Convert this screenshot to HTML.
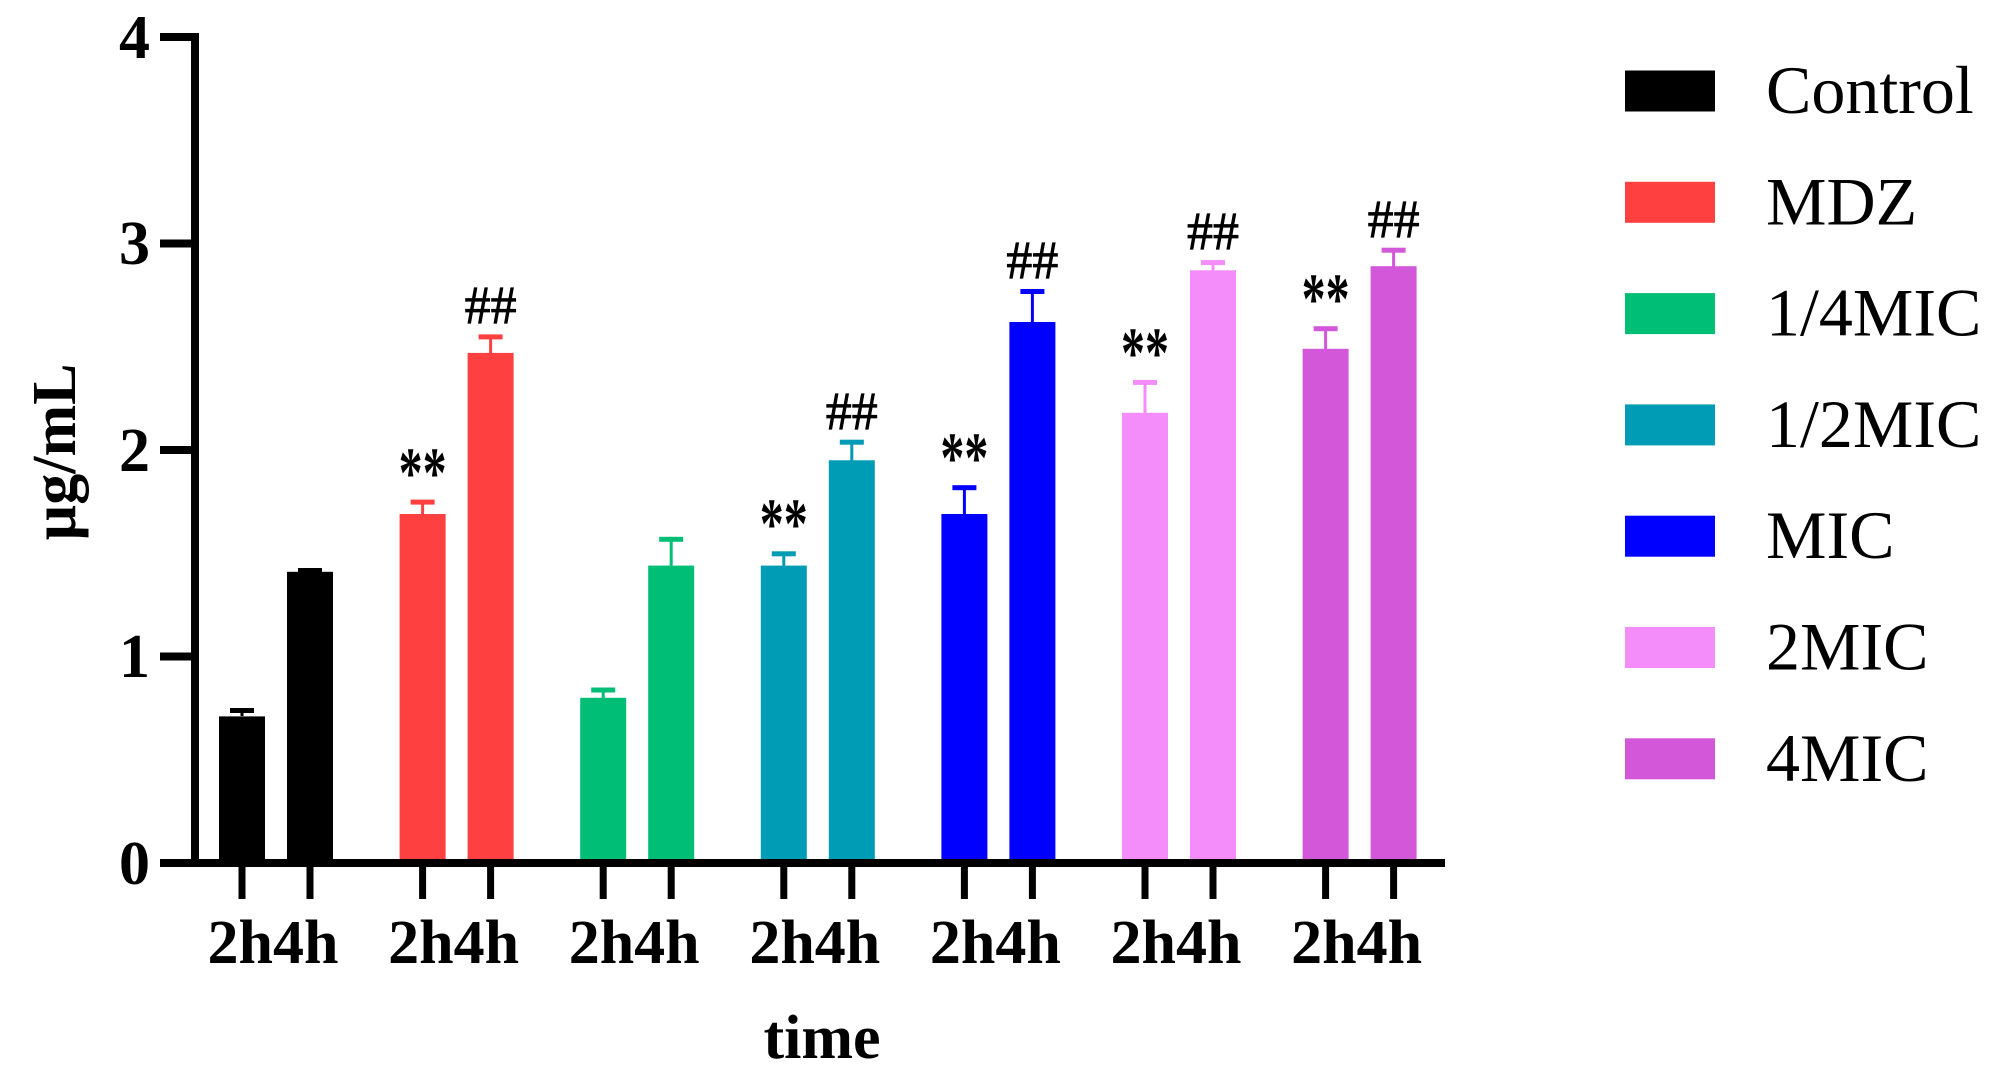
<!DOCTYPE html>
<html><head><meta charset="utf-8"><style>html,body{margin:0;padding:0;background:#fff}svg{display:block}</style></head>
<body>
<svg width="2012" height="1090" viewBox="0 0 2012 1090" xmlns="http://www.w3.org/2000/svg" font-family="'Liberation Serif', serif">
<rect width="2012" height="1090" fill="#fff"/>
<g>
<line x1="242" y1="716" x2="242" y2="710" stroke="#000" stroke-width="3"/><rect x="230" y="708" width="24" height="5" fill="#000"/>
<rect x="219" y="716.4" width="46" height="146.6" fill="#000"/>
<line x1="310" y1="572" x2="310" y2="570" stroke="#000" stroke-width="3"/><rect x="298" y="568" width="24" height="5" fill="#000"/>
<rect x="287" y="571.8" width="46" height="291.2" fill="#000"/>
<line x1="422.6" y1="514" x2="422.6" y2="501.6" stroke="#FF4040" stroke-width="3"/><rect x="410.6" y="499.6" width="24" height="5" fill="#FF4040"/>
<rect x="399.6" y="514" width="46" height="349" fill="#FF4040"/>
<line x1="490.6" y1="353" x2="490.6" y2="336.4" stroke="#FF4040" stroke-width="3"/><rect x="478.6" y="334.4" width="24" height="5" fill="#FF4040"/>
<rect x="467.6" y="352.9" width="46" height="510.1" fill="#FF4040"/>
<line x1="603.2" y1="698" x2="603.2" y2="689.5" stroke="#00BE76" stroke-width="3"/><rect x="591.2" y="687.5" width="24" height="5" fill="#00BE76"/>
<rect x="580.2" y="697.8" width="46" height="165.2" fill="#00BE76"/>
<line x1="671.2" y1="566" x2="671.2" y2="538.8" stroke="#00BE76" stroke-width="3"/><rect x="659.2" y="536.8" width="24" height="5" fill="#00BE76"/>
<rect x="648.2" y="565.6" width="46" height="297.4" fill="#00BE76"/>
<line x1="783.8" y1="566" x2="783.8" y2="553.3" stroke="#009BB4" stroke-width="3"/><rect x="771.8" y="551.3" width="24" height="5" fill="#009BB4"/>
<rect x="760.8" y="565.6" width="46" height="297.4" fill="#009BB4"/>
<line x1="851.8" y1="461" x2="851.8" y2="441.7" stroke="#009BB4" stroke-width="3"/><rect x="839.8" y="439.7" width="24" height="5" fill="#009BB4"/>
<rect x="828.8" y="460.3" width="46" height="402.7" fill="#009BB4"/>
<line x1="964.4" y1="514" x2="964.4" y2="487.2" stroke="#0000FF" stroke-width="3"/><rect x="952.4" y="485.2" width="24" height="5" fill="#0000FF"/>
<rect x="941.4" y="514" width="46" height="349" fill="#0000FF"/>
<line x1="1032.4" y1="322" x2="1032.4" y2="291" stroke="#0000FF" stroke-width="3"/><rect x="1020.4" y="289" width="24" height="5" fill="#0000FF"/>
<rect x="1009.4" y="322" width="46" height="541" fill="#0000FF"/>
<line x1="1145" y1="413" x2="1145" y2="381.9" stroke="#F48CF9" stroke-width="3"/><rect x="1133" y="379.9" width="24" height="5" fill="#F48CF9"/>
<rect x="1122" y="412.8" width="46" height="450.2" fill="#F48CF9"/>
<line x1="1213" y1="271" x2="1213" y2="262.1" stroke="#F48CF9" stroke-width="3"/><rect x="1201" y="260.1" width="24" height="5" fill="#F48CF9"/>
<rect x="1190" y="270.3" width="46" height="592.7" fill="#F48CF9"/>
<line x1="1325.6" y1="349" x2="1325.6" y2="328.2" stroke="#D257D9" stroke-width="3"/><rect x="1313.6" y="326.2" width="24" height="5" fill="#D257D9"/>
<rect x="1302.6" y="348.8" width="46" height="514.2" fill="#D257D9"/>
<line x1="1393.6" y1="267" x2="1393.6" y2="249.7" stroke="#D257D9" stroke-width="3"/><rect x="1381.6" y="247.7" width="24" height="5" fill="#D257D9"/>
<rect x="1370.6" y="266.2" width="46" height="596.8" fill="#D257D9"/>
</g>
<g font-weight="bold" font-size="72" text-anchor="middle">
<text x="422.6" y="497" textLength="48" lengthAdjust="spacingAndGlyphs">**</text>
<text x="783.8" y="548" textLength="48" lengthAdjust="spacingAndGlyphs">**</text>
<text x="964.4" y="482" textLength="48" lengthAdjust="spacingAndGlyphs">**</text>
<text x="1145" y="377" textLength="48" lengthAdjust="spacingAndGlyphs">**</text>
<text x="1325.6" y="323" textLength="48" lengthAdjust="spacingAndGlyphs">**</text>
</g>
<g font-size="54" text-anchor="middle" stroke="#000" stroke-width="0.8">
<text x="490.6" y="323" textLength="52" lengthAdjust="spacingAndGlyphs">##</text>
<text x="851.8" y="429" textLength="52" lengthAdjust="spacingAndGlyphs">##</text>
<text x="1032.4" y="278" textLength="52" lengthAdjust="spacingAndGlyphs">##</text>
<text x="1213" y="249" textLength="52" lengthAdjust="spacingAndGlyphs">##</text>
<text x="1393.6" y="237" textLength="52" lengthAdjust="spacingAndGlyphs">##</text>
</g>
<line x1="195" y1="33" x2="195" y2="867" stroke="#000" stroke-width="8"/>
<line x1="160" y1="863" x2="1445" y2="863" stroke="#000" stroke-width="8"/>
<g stroke="#000" stroke-width="8">
<line x1="160" y1="37" x2="195" y2="37"/>
<line x1="160" y1="243.5" x2="195" y2="243.5"/>
<line x1="160" y1="450" x2="195" y2="450"/>
<line x1="160" y1="656.5" x2="195" y2="656.5"/>
</g>
<g stroke="#000" stroke-width="7">
<line x1="242" y1="863" x2="242" y2="899"/><line x1="310" y1="863" x2="310" y2="899"/>
<line x1="422.6" y1="863" x2="422.6" y2="899"/><line x1="490.6" y1="863" x2="490.6" y2="899"/>
<line x1="603.2" y1="863" x2="603.2" y2="899"/><line x1="671.2" y1="863" x2="671.2" y2="899"/>
<line x1="783.8" y1="863" x2="783.8" y2="899"/><line x1="851.8" y1="863" x2="851.8" y2="899"/>
<line x1="964.4" y1="863" x2="964.4" y2="899"/><line x1="1032.4" y1="863" x2="1032.4" y2="899"/>
<line x1="1145" y1="863" x2="1145" y2="899"/><line x1="1213" y1="863" x2="1213" y2="899"/>
<line x1="1325.6" y1="863" x2="1325.6" y2="899"/><line x1="1393.6" y1="863" x2="1393.6" y2="899"/>
</g>
<g font-weight="bold" font-size="62" text-anchor="middle">
<text x="273" y="963">2h4h</text>
<text x="453.6" y="963">2h4h</text>
<text x="634.2" y="963">2h4h</text>
<text x="814.8" y="963">2h4h</text>
<text x="995.4" y="963">2h4h</text>
<text x="1176" y="963">2h4h</text>
<text x="1356.6" y="963">2h4h</text>
</g>
<g font-weight="bold" font-size="62" text-anchor="end">
<text x="150" y="58">4</text>
<text x="150" y="264">3</text>
<text x="150" y="471">2</text>
<text x="150" y="677">1</text>
<text x="150" y="884">0</text>
</g>
<text transform="translate(75,452) rotate(-90)" text-anchor="middle" font-weight="bold" font-size="62">µg/mL</text>
<text x="822" y="1058" text-anchor="middle" font-weight="bold" font-size="62">time</text>
<g font-size="68">
<rect x="1625" y="70.5" width="90" height="41" fill="#000000"/><text x="1766" y="113">Control</text>
<rect x="1625" y="181.8" width="90" height="41" fill="#FF4040"/><text x="1766" y="224.3">MDZ</text>
<rect x="1625" y="293.1" width="90" height="41" fill="#00BE76"/><text x="1766" y="335.6">1/4MIC</text>
<rect x="1625" y="404.4" width="90" height="41" fill="#009BB4"/><text x="1766" y="446.9">1/2MIC</text>
<rect x="1625" y="515.7" width="90" height="41" fill="#0000FF"/><text x="1766" y="558.2">MIC</text>
<rect x="1625" y="627" width="90" height="41" fill="#F48CF9"/><text x="1766" y="669.5">2MIC</text>
<rect x="1625" y="738.3" width="90" height="41" fill="#D257D9"/><text x="1766" y="780.8">4MIC</text>
</g>
</svg>
</body></html>
